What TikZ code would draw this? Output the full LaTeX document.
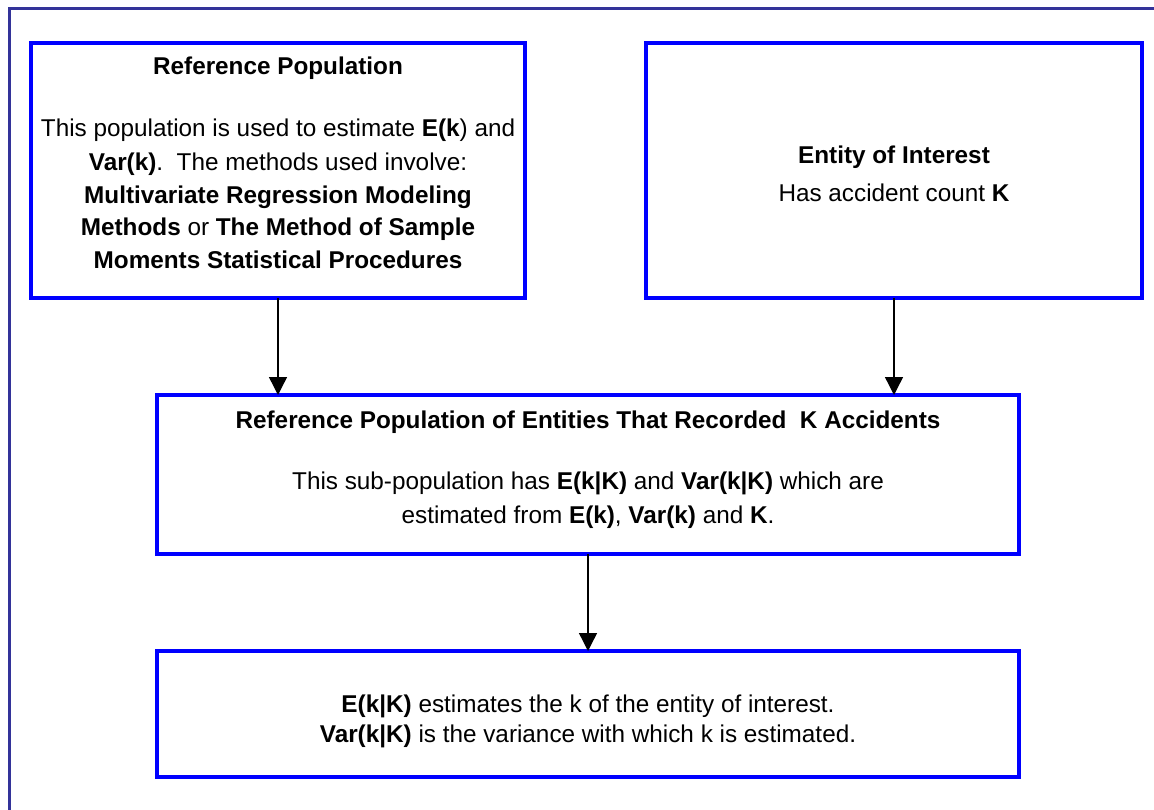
\documentclass[tikz,border=0pt]{standalone}
\usepackage{fontspec}
\setmainfont{Liberation Sans}
\usetikzlibrary{arrows.meta}
\definecolor{frameblue}{HTML}{333399}
\definecolor{boxblue}{HTML}{0000FF}
\begin{document}
\begin{tikzpicture}[x=1pt,y=-1pt,
  boxnode/.style={draw=boxblue,line width=4pt,rectangle,anchor=north west,inner sep=0pt,outer sep=0pt},
  txt/.style={anchor=base,inner sep=0pt,font=\fontsize{24.3}{33}\selectfont},
  arr/.style={-{Triangle[width=18pt,length=18pt]},line width=1.4pt,black}]
\useasboundingbox (0,0) rectangle (1154,810);
\begin{scope}
\clip (0,0) rectangle (1154,810);
\draw[frameblue,line width=3pt] (9,9) rectangle (1170,830);
\end{scope}
% boxes
\node[boxnode,minimum width=494pt,minimum height=255pt] (b1) at (31,43) {};
\node[boxnode,minimum width=496pt,minimum height=255pt] (b2) at (646,43) {};
\node[boxnode,minimum width=862pt,minimum height=159pt] (b3) at (157,395) {};
\node[boxnode,minimum width=862pt,minimum height=126pt] (b4) at (157,651) {};
% box 1 text
\node[txt] (t1a) at (278,74.5) {\textbf{Reference Population}};
\node[txt] (t1b) at (278,137) {This population is used to estimate \textbf{E(k}) and};
\node[txt] (t1c) at (278,170.5) {\textbf{Var(k)}.\ \ The methods used involve:};
\node[txt] (t1d) at (278,203.5) {\textbf{Multivariate Regression Modeling}};
\node[txt] (t1e) at (278,236) {\textbf{Methods} or \textbf{The Method of Sample}};
\node[txt] (t1f) at (278,269) {\textbf{Moments Statistical Procedures}};
% box 2 text
\node[txt] (t2a) at (894,164) {\textbf{Entity of Interest}};
\node[txt] (t2b) at (894,202) {Has accident count \textbf{K}};
% box 3 text
\node[txt] (t3a) at (588,428) {\textbf{Reference Population of Entities That Recorded\ \ K Accidents}};
\node[txt] (t3b) at (588,489) {This sub-population has \textbf{E(k|K)} and \textbf{Var(k|K)} which are};
\node[txt] (t3c) at (588,523) {estimated from \textbf{E(k)}, \textbf{Var(k)} and \textbf{K}.};
% box 4 text
\node[txt] (t4a) at (588,712) {\textbf{E(k|K)} estimates the k of the entity of interest.};
\node[txt] (t4b) at (588,742) {\textbf{Var(k|K)} is the variance with which k is estimated.};
% arrows
\draw[arr] (b1.south) -- (b1.south |- b3.north);
\draw[arr] (b2.south) -- (b2.south |- b3.north);
\draw[arr] (b3.south) -- (b4.north);
\end{tikzpicture}
\end{document}
